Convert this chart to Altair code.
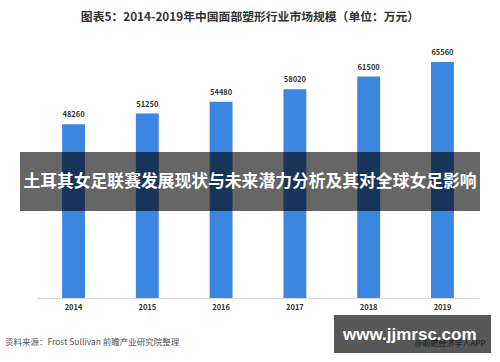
import altair as alt
import pandas as pd

years = ["2014", "2015", "2016", "2017", "2018", "2019"]
values = [48260, 51250, 54480, 58020, 61500, 65560]

title_text = "图表5：2014-2019年中国面部塑形行业市场规模（单位：万元）"
banner_text = "土耳其女足联赛发展现状与未来潜力分析及其对全球女足影响"
source_text = "资料来源：Frost Sullivan 前瞻产业研究院整理"
app_text = "@前瞻经济学人APP"
site_text = "www.jjmrsc.com"

FONT = "Noto Sans CJK SC"
df = pd.DataFrame({"year": years, "value": values})
one = pd.DataFrame({"a": [0]})

x_enc = alt.X("year:N", sort=years, title=None,
              scale=alt.Scale(paddingInner=0.69, paddingOuter=0.34),
              axis=alt.Axis(labelAngle=0, labelFont=FONT, labelFontSize=7.5,
                            labelFontWeight="bold", labelColor="#333333",
                            labelPadding=5, ticks=False, domainColor="#d9d9d9",
                            domainWidth=1))
y_enc = alt.Y("value:Q", title=None, scale=alt.Scale(domain=[0, 70000], nice=False),
              axis=None)

bars = alt.Chart(df).mark_bar(color="#3b86e0").encode(x=x_enc, y=y_enc)
labels = alt.Chart(df).mark_text(font=FONT, fontSize=7.5, fontWeight="bold",
                                 color="#333333", baseline="bottom", dy=-5).encode(
    x=alt.X("year:N", sort=years), y="value:Q", text="value:Q")

title = alt.Chart(one).mark_text(text=title_text, font=FONT, fontSize=11.8,
                                 fontWeight="bold", color="#333333",
                                 align="center", baseline="middle").encode(
    x=alt.value(213), y=alt.value(-29))

banner = alt.Chart(one).mark_rect(color="black", opacity=0.6).encode(
    x=alt.value(-17), x2=alt.value(443), y=alt.value(106), y2=alt.value(165))
banner_t = alt.Chart(one).mark_text(text=banner_text, font=FONT, fontSize=16.8,
                                    fontWeight="bold", color="white",
                                    align="center", baseline="middle").encode(
    x=alt.value(213), y=alt.value(136))

source = alt.Chart(one).mark_text(text=source_text, font=FONT, fontSize=8.5,
                                  color="#555555", align="left",
                                  baseline="middle").encode(
    x=alt.value(-32), y=alt.value(296))

app = alt.Chart(one).mark_text(text=app_text, font=FONT, fontSize=8,
                               color="#444444", align="left",
                               baseline="middle").encode(
    x=alt.value(378), y=alt.value(298))
wbox = alt.Chart(one).mark_rect(color="black", opacity=0.66).encode(
    x=alt.value(297), x2=alt.value(454), y=alt.value(269), y2=alt.value(307))
wtext = alt.Chart(one).mark_text(text=site_text, font="Liberation Sans", fontSize=17,
                                 fontWeight="bold", color="white",
                                 align="left", baseline="middle").encode(
    x=alt.value(306), y=alt.value(289))

chart = alt.layer(bars, labels, title, banner, banner_t, source, app, wbox, wtext).properties(
    width=442, height=252,
    autosize=alt.AutoSizeParams(type="none"),
    padding={"left": 37, "top": 46, "right": 21, "bottom": 64},
    background="white",
).configure_view(stroke=None)

chart.save("out.html", embed_options={"renderer": "svg", "actions": False})
